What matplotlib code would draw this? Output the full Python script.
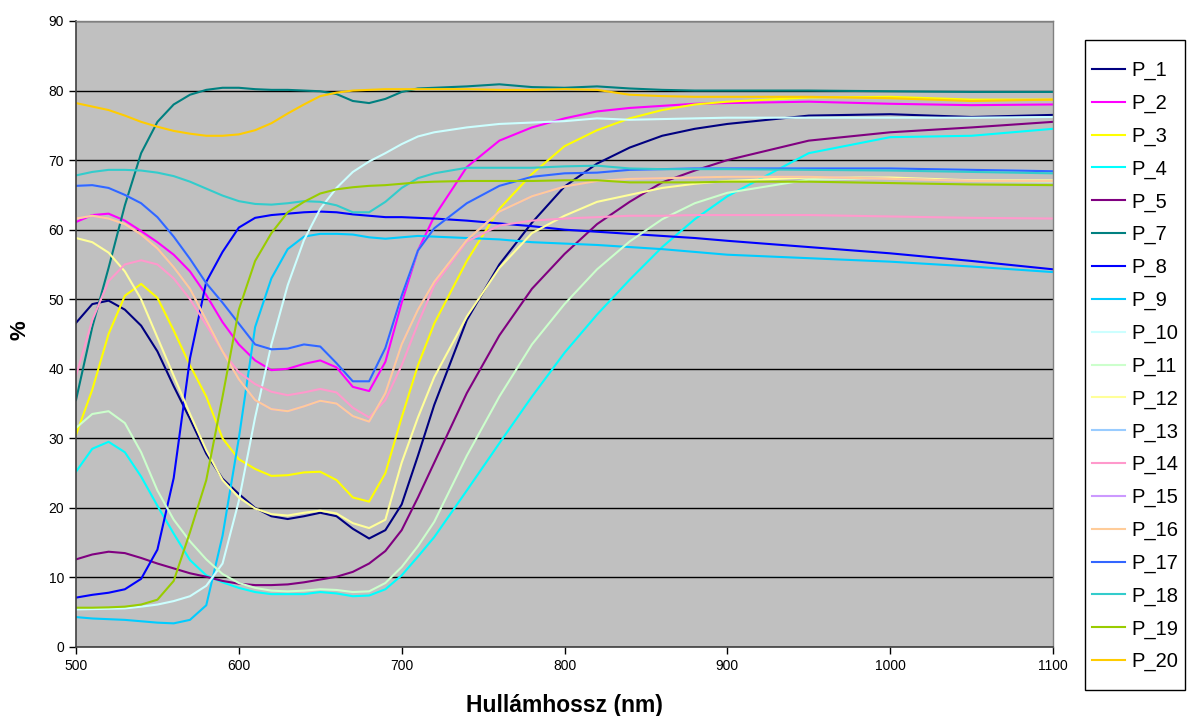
import matplotlib
matplotlib.use("Agg")
import matplotlib.pyplot as plt
from matplotlib.patches import Rectangle

plt.rcParams['font.family'] = ['Liberation Sans', 'DejaVu Sans']

wavelength = [500, 510, 520, 530, 540, 550, 560, 570, 580, 590, 600, 610, 620, 630, 640, 650,
              660, 670, 680, 690, 700, 710, 720, 740, 760, 780, 800, 820, 840, 860, 880, 900,
              950, 1000, 1050, 1100]

p1 = [46.6, 49.3, 49.8, 48.5, 46.2, 42.5, 37.5, 32.8, 27.8, 24.2, 22.0, 20.0, 18.8, 18.4, 18.8, 19.3,
      18.8, 17.0, 15.6, 16.8, 20.5, 27.5, 34.8, 47.0, 55.0, 61.0, 66.2, 69.5, 71.8, 73.5, 74.5, 75.2,
      76.4, 76.6, 76.2, 76.5]
p2 = [61.1, 62.1, 62.3, 61.3, 59.8, 58.2, 56.4, 54.0, 50.6, 46.7, 43.5, 41.2, 39.8, 40.0, 40.7, 41.2,
      40.2, 37.4, 36.8, 41.0, 49.5, 57.0, 61.9, 69.0, 72.8, 74.7, 76.0, 77.0, 77.5, 77.8, 78.1, 78.2,
      78.4, 78.1, 77.9, 78.0]
p3 = [30.5, 37.0, 45.0, 50.5, 52.2, 50.2, 45.5, 40.5, 36.0, 30.0, 27.0, 25.6, 24.6, 24.7, 25.1, 25.2,
      24.0, 21.5, 20.9, 25.0, 33.0, 40.5, 46.5, 55.5, 63.0, 68.0, 72.0, 74.3, 76.0, 77.2, 78.0, 78.4,
      79.0, 79.1, 78.7, 78.7]
p4 = [25.2, 28.5, 29.5, 28.0, 24.5, 20.3, 16.3, 12.5, 10.3, 9.3, 8.5, 7.9, 7.6, 7.6, 7.6, 7.9,
      7.7, 7.3, 7.4, 8.3, 10.3, 13.0, 15.8, 22.5, 29.3, 36.0, 42.3, 47.8, 52.8, 57.5, 61.5, 64.8,
      71.0, 73.3, 73.5, 74.5]
p5 = [12.6, 13.3, 13.7, 13.5, 12.8, 12.0, 11.3, 10.6, 10.1, 9.5, 9.1, 8.9, 8.9, 9.0, 9.3, 9.7,
      10.1, 10.8, 12.0, 13.8, 16.8, 21.5, 26.5, 36.5, 44.8, 51.5, 56.5, 60.8, 64.0, 66.8, 68.5, 70.0,
      72.8, 74.0, 74.7, 75.5]
p7 = [35.5, 46.0, 54.5, 63.5, 71.0, 75.5, 78.0, 79.4, 80.1, 80.4, 80.4, 80.2, 80.1, 80.1, 80.0, 79.9,
      79.5, 78.5, 78.2, 78.8, 79.8, 80.3, 80.4, 80.6, 80.9, 80.5, 80.4, 80.6, 80.3, 80.1, 80.0, 80.0,
      80.0, 79.9, 79.8, 79.8]
p8 = [7.1, 7.5, 7.8, 8.3, 9.8, 14.0, 24.3, 41.5, 52.5, 56.8, 60.3, 61.7, 62.1, 62.3, 62.5, 62.6,
      62.5, 62.2, 62.0, 61.8, 61.8, 61.7, 61.6, 61.3, 60.9, 60.5, 60.0, 59.7, 59.4, 59.1, 58.8, 58.4,
      57.5, 56.6, 55.5, 54.3]
p9 = [4.3, 4.1, 4.0, 3.9, 3.7, 3.5, 3.4, 3.9, 6.0, 16.0, 30.0, 46.0, 53.0, 57.2, 59.0, 59.4,
      59.4, 59.3, 58.9, 58.7, 58.9, 59.1, 59.0, 58.8, 58.6, 58.2, 58.0, 57.8, 57.5, 57.2, 56.8, 56.4,
      55.9, 55.4, 54.7, 53.9]
p10 = [5.4, 5.45, 5.5, 5.55, 5.8, 6.1, 6.6, 7.3, 8.8, 12.0, 21.0, 33.0, 43.5, 52.0, 58.5, 63.0,
       66.0, 68.3, 69.8, 71.0, 72.3, 73.4, 74.0, 74.7, 75.2, 75.4, 75.6, 76.0, 75.8, 75.9, 76.0, 76.1,
       76.1, 76.1, 76.1, 76.2]
p11 = [31.5, 33.5, 33.9, 32.2, 28.0, 22.5, 18.3, 15.2, 12.6, 10.5, 9.2, 8.5, 8.1, 8.0, 8.1, 8.3,
       8.2, 7.9, 8.0, 9.2, 11.5, 14.5, 18.0, 27.5, 36.0, 43.5, 49.3, 54.3, 58.3, 61.5, 63.8, 65.3,
       67.2, 67.4, 67.0, 66.9]
p12 = [58.8, 58.2, 56.7, 54.0, 50.0, 44.5, 39.0, 33.5, 28.3, 24.0, 21.5, 19.9, 19.1, 18.9, 19.3, 19.6,
       19.2, 17.8, 17.1, 18.3, 26.5, 33.0, 38.8, 47.5, 54.5, 59.5, 62.0, 64.0, 65.0, 66.0, 66.6, 67.0,
       67.5, 67.5, 67.1, 67.1]
p13 = [66.3, 66.4, 66.0, 65.0, 63.8, 61.8, 59.0, 55.8, 52.3, 49.5, 46.5, 43.5, 42.8, 42.9, 43.5, 43.2,
       40.8, 38.2, 38.2, 43.0, 50.5, 57.0, 60.2, 63.8, 66.3, 67.6, 68.1, 68.2, 68.6, 68.7, 68.8, 68.8,
       68.8, 68.8, 68.6, 68.4]
p14 = [39.0, 47.0, 52.6, 55.0, 55.6, 55.0, 53.0, 50.0, 46.3, 42.5, 39.5, 37.8, 36.7, 36.2, 36.6, 37.1,
       36.6, 34.4, 33.0, 35.5, 40.5, 46.5, 52.0, 58.3, 60.6, 61.3, 61.6, 61.8, 62.0, 62.0, 62.1, 62.1,
       62.1, 61.9, 61.7, 61.6]
p15 = [61.6, 62.0, 61.6, 60.8, 59.3, 57.3, 54.6, 51.5, 47.0, 42.5, 38.5, 35.5, 34.2, 33.9, 34.6, 35.4,
       35.0, 33.2, 32.4, 36.5, 43.5, 48.5, 52.5, 58.5, 62.6, 64.8, 66.2, 67.0, 67.3, 67.4, 67.5, 67.6,
       67.6, 67.3, 67.0, 67.0]
p16 = [61.6, 62.0, 61.6, 60.8, 59.3, 57.3, 54.6, 51.5, 47.0, 42.5, 38.5, 35.5, 34.2, 33.9, 34.6, 35.4,
       35.0, 33.2, 32.4, 36.5, 43.5, 48.5, 52.5, 58.5, 62.6, 64.8, 66.2, 67.0, 67.3, 67.4, 67.5, 67.6,
       67.6, 67.3, 67.0, 67.0]
p17 = [66.3, 66.4, 66.0, 65.0, 63.8, 61.8, 59.0, 55.8, 52.3, 49.5, 46.5, 43.5, 42.8, 42.9, 43.5, 43.2,
       40.8, 38.2, 38.2, 43.0, 50.5, 57.0, 60.2, 63.8, 66.3, 67.6, 68.1, 68.2, 68.6, 68.7, 68.8, 68.8,
       68.8, 68.8, 68.6, 68.4]
p18 = [67.8, 68.3, 68.6, 68.6, 68.5, 68.2, 67.7, 66.9, 65.9, 64.9, 64.1, 63.7, 63.6, 63.8, 64.1, 64.0,
       63.5, 62.5, 62.5, 64.0, 66.0, 67.4, 68.1, 68.9, 68.9, 68.9, 69.1, 69.2, 68.8, 68.7, 68.7, 68.7,
       68.6, 68.5, 68.3, 68.1]
p19 = [5.65, 5.65, 5.7, 5.8, 6.1, 6.8, 9.5, 16.5, 24.0, 36.0, 48.5, 55.5, 59.5, 62.5, 64.0, 65.2,
       65.8, 66.1, 66.3, 66.4, 66.6, 66.8, 66.9, 67.0, 67.0, 67.0, 67.1, 67.1, 66.8, 66.8, 66.8, 66.9,
       66.9, 66.7, 66.5, 66.4]
p20 = [78.2, 77.7, 77.2, 76.4, 75.5, 74.8, 74.2, 73.8, 73.5, 73.5, 73.7, 74.3, 75.3, 76.7, 78.0, 79.2,
       79.7, 80.0, 80.1, 80.2, 80.2, 80.2, 80.2, 80.2, 80.1, 80.1, 80.2, 80.1, 79.4, 79.2, 79.1, 79.1,
       79.1, 78.9, 78.5, 78.7]

series_names = ["P_1", "P_2", "P_3", "P_4", "P_5", "P_7", "P_8", "P_9", "P_10", "P_11",
                "P_12", "P_13", "P_14", "P_15", "P_16", "P_17", "P_18", "P_19", "P_20"]
series_values = [p1, p2, p3, p4, p5, p7, p8, p9, p10, p11, p12, p13, p14, p15, p16, p17, p18, p19, p20]
series_colors = ["#000080", "#FF00FF", "#FFFF00", "#00FFFF", "#800080", "#008080", "#0000FF",
                 "#00CCFF", "#CCFFFF", "#CCFFCC", "#FFFF99", "#99CCFF", "#FF99CC", "#CC99FF",
                 "#FFCC99", "#3366FF", "#33CCCC", "#99CC00", "#FFCC00"]

x_ticks = [500, 600, 700, 800, 900, 1000, 1100]
y_ticks = [0, 10, 20, 30, 40, 50, 60, 70, 80, 90]

W, H = 1187, 716
fig = plt.figure(figsize=(W / 100, H / 100), dpi=100)
ax = fig.add_axes([76 / W, 1 - 647 / H, (1053 - 76) / W, (647 - 21) / H])
ax.set_facecolor("#C0C0C0")

for name, vals, col in zip(series_names, series_values, series_colors):
    ax.plot(wavelength, vals, color=col, linewidth=1.5, label=name)

ax.set_xlim(500, 1100)
ax.set_ylim(0, 90)
ax.set_xticks(x_ticks)
ax.set_yticks(y_ticks)
ax.yaxis.grid(True, color="black", linewidth=1.0)
ax.set_axisbelow(True)
ax.tick_params(direction="out", length=5, width=1, labelsize=10, colors="black")
for side in ["left", "bottom"]:
    ax.spines[side].set_color("#404040")
    ax.spines[side].set_linewidth(1.2)
for side in ["top", "right"]:
    ax.spines[side].set_color("#808080")
    ax.spines[side].set_linewidth(1.0)

ax.set_xlabel("Hullámhossz (nm)", fontsize=16.5, fontweight="bold", labelpad=15)
fig.text(20 / W, 1 - 330 / H, "%", rotation=90, fontsize=16, fontweight="bold",
         ha="center", va="center")

# legend frame drawn as a figure rectangle
fig.patches.append(Rectangle((1085 / W, 1 - 690 / H), 100 / W, 650 / H,
                             transform=fig.transFigure, facecolor="white",
                             edgecolor="black", linewidth=1.0, zorder=1))
leg = fig.legend(loc="upper left", bbox_to_anchor=(1092 / W, 1 - 61 / H),
                 fontsize=14.5, frameon=False,
                 handlelength=1.65, handletextpad=0.3, labelspacing=0.675,
                 borderpad=0, borderaxespad=0)
leg.set_zorder(2)
for line in leg.get_lines():
    line.set_linewidth(1.5)

fig.savefig("out.png", dpi=100, facecolor="white")
